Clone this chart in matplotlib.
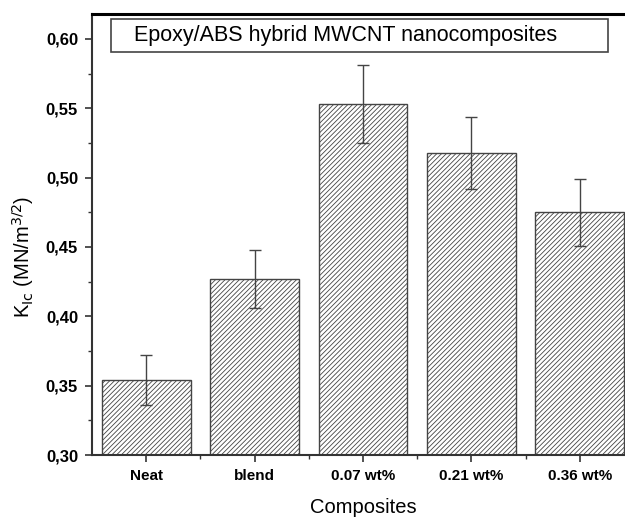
import matplotlib.pyplot as plt
import numpy as np
from matplotlib.ticker import MultipleLocator, FuncFormatter, FixedLocator
from matplotlib.patches import Rectangle

plt.rcParams['font.family'] = ['Liberation Sans', 'DejaVu Sans']
plt.rcParams['hatch.linewidth'] = 0.6
plt.rcParams['hatch.color'] = '#555555'

composites = ['Neat', 'blend', '0.07 wt%', '0.21 wt%', '0.36 wt%']
kic = [0.354, 0.427, 0.553, 0.518, 0.475]
kic_err = [0.018, 0.021, 0.028, 0.026, 0.024]

fig = plt.figure(figsize=(6.25, 5.17), dpi=100)
ax = fig.add_axes([0.1472, 0.1199, 0.8672, 0.853])

x = np.arange(1, len(composites) + 1)
ax.bar(x, kic, width=0.82, color='white', edgecolor='#444444', linewidth=1.0,
       hatch='///////', zorder=2)
ax.errorbar(x, kic, yerr=kic_err, fmt='none', ecolor='#444444', elinewidth=1.0,
            capsize=4, capthick=1.0, zorder=3)

ax.set_xlim(0.5, 5.5)
ax.set_ylim(0.30, 0.618)
ax.set_xticks(x)
ax.set_xticklabels(composites, fontsize=11, fontweight='bold')
ax.xaxis.set_minor_locator(FixedLocator(np.arange(1.5, 5.5, 1.0)))
ax.yaxis.set_major_locator(MultipleLocator(0.05))
ax.yaxis.set_minor_locator(MultipleLocator(0.025))
ax.yaxis.set_major_formatter(FuncFormatter(lambda v, p: f'{v:.2f}'.replace('.', ',')))
for lab in ax.get_yticklabels():
    lab.set_fontweight('bold')

ax.tick_params(which='major', direction='out', length=5, width=1.2, pad=5, color='#333333')
ax.tick_params(which='minor', direction='out', length=3, width=1.0, color='#333333')
ax.tick_params(axis='y', which='major', labelsize=12)

for s in ax.spines.values():
    s.set_linewidth(1.5)
    s.set_color('#333333')
ax.spines['top'].set_linewidth(2.2)
ax.spines['top'].set_color('black')

ax.set_xlabel('Composites', fontsize=14.5, labelpad=11)
ax.set_ylabel(r'K$_{\mathrm{Ic}}$ (MN/m$^{3/2}$)', fontsize=14.5)
ax.yaxis.set_label_coords(-0.103, 0.45)

ax.add_patch(Rectangle((0.035, 0.9138), 0.917, 0.0749, transform=ax.transAxes,
                       facecolor='white', edgecolor='#444444', linewidth=1.2, zorder=4))
ax.text(0.0775, 0.951, 'Epoxy/ABS hybrid MWCNT nanocomposites', transform=ax.transAxes,
        ha='left', va='center', fontsize=15.5, zorder=5)

fig.savefig('out.png', dpi=100)
